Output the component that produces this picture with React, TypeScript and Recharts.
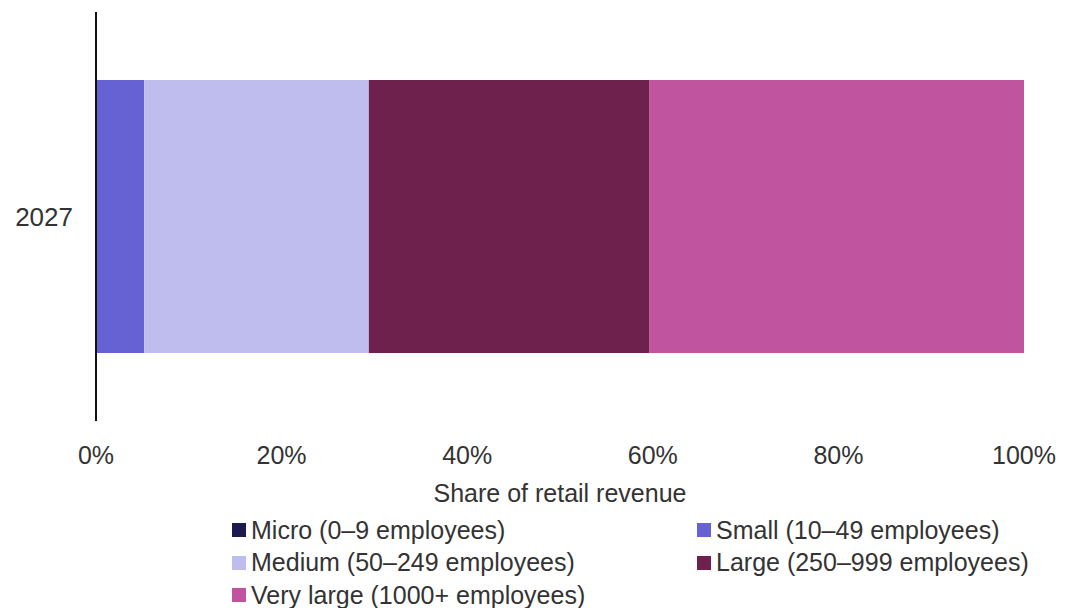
import React from 'react';
import { BarChart, Bar, XAxis, YAxis, Legend } from 'recharts';

const categories = ['2027'];
const seriesNames = [
  'Micro (0–9 employees)',
  'Small (10–49 employees)',
  'Medium (50–249 employees)',
  'Large (250–999 employees)',
  'Very large (1000+ employees)',
];
const seriesKeys = ['micro', 'small', 'medium', 'large', 'veryLarge'];
const micro = [0.1];
const small = [5.1];
const medium = [24.2];
const large = [30.2];
const veryLarge = [40.4];
const xTicks = [0, 20, 40, 60, 80, 100];
const colors = ['#1c1a4f', '#6662d4', '#bfbdee', '#6e214d', '#c0549f'];

const seriesValues = [micro, small, medium, large, veryLarge];
const data = categories.map((c, i) => {
  const row: Record<string, any> = { year: c };
  seriesKeys.forEach((k, j) => {
    row[k] = seriesValues[j][i];
  });
  return row;
});

const FONT = '"Liberation Sans", Arial, sans-serif';

const renderLegend = (props: any) => {
  const payload = [...(props.payload || [])].sort(
    (a: any, b: any) => seriesNames.indexOf(a.value) - seriesNames.indexOf(b.value)
  );
  const cols = [224, 689];
  return (
    <div style={{ position: 'relative', width: 1069, height: 97, fontFamily: FONT }}>
      {payload.map((p: any, i: number) => {
        const col = i % 2;
        const row = Math.floor(i / 2);
        return (
          <div
            key={i}
            style={{
              position: 'absolute',
              left: cols[col],
              top: 3 + row * 32.5,
              height: 32,
              display: 'flex',
              alignItems: 'center',
              whiteSpace: 'nowrap',
              fontSize: 25,
              color: '#333',
            }}
          >
            <span style={{ display: 'inline-block', width: 14, height: 14, background: p.color, marginRight: 5 }} />
            {p.value}
          </div>
        );
      })}
    </div>
  );
};

export default function App() {
  return (
    <BarChart
      width={1069}
      height={600}
      data={data}
      layout="vertical"
      margin={{ top: 4, right: 53, bottom: 0, left: 0 }}
      barSize={273}
    >
      <XAxis
        type="number"
        domain={[0, 100]}
        ticks={xTicks}
        tickFormatter={(v: number) => `${v}%`}
        axisLine={false}
        tickLine={false}
        tickSize={0}
        tickMargin={25}
        height={90}
        interval={0}
        tick={{ fill: '#333', fontSize: 25, fontFamily: FONT }}
        label={{ value: 'Share of retail revenue', position: 'insideBottom', offset: 9, fill: '#333', fontSize: 25, fontFamily: FONT }}
      />
      <YAxis
        type="category"
        dataKey="year"
        width={88}
        axisLine={{ stroke: '#111', strokeWidth: 2 }}
        tickLine={false}
        tickSize={0}
        tickMargin={23}
        tick={{ fill: '#333', fontSize: 26, fontFamily: FONT }}
      />
      <Legend verticalAlign="bottom" height={97} content={renderLegend} />
      {seriesKeys.map((k, j) => (
        <Bar key={k} dataKey={k} name={seriesNames[j]} stackId="a" fill={colors[j]} isAnimationActive={false} />
      ))}
    </BarChart>
  );
}
